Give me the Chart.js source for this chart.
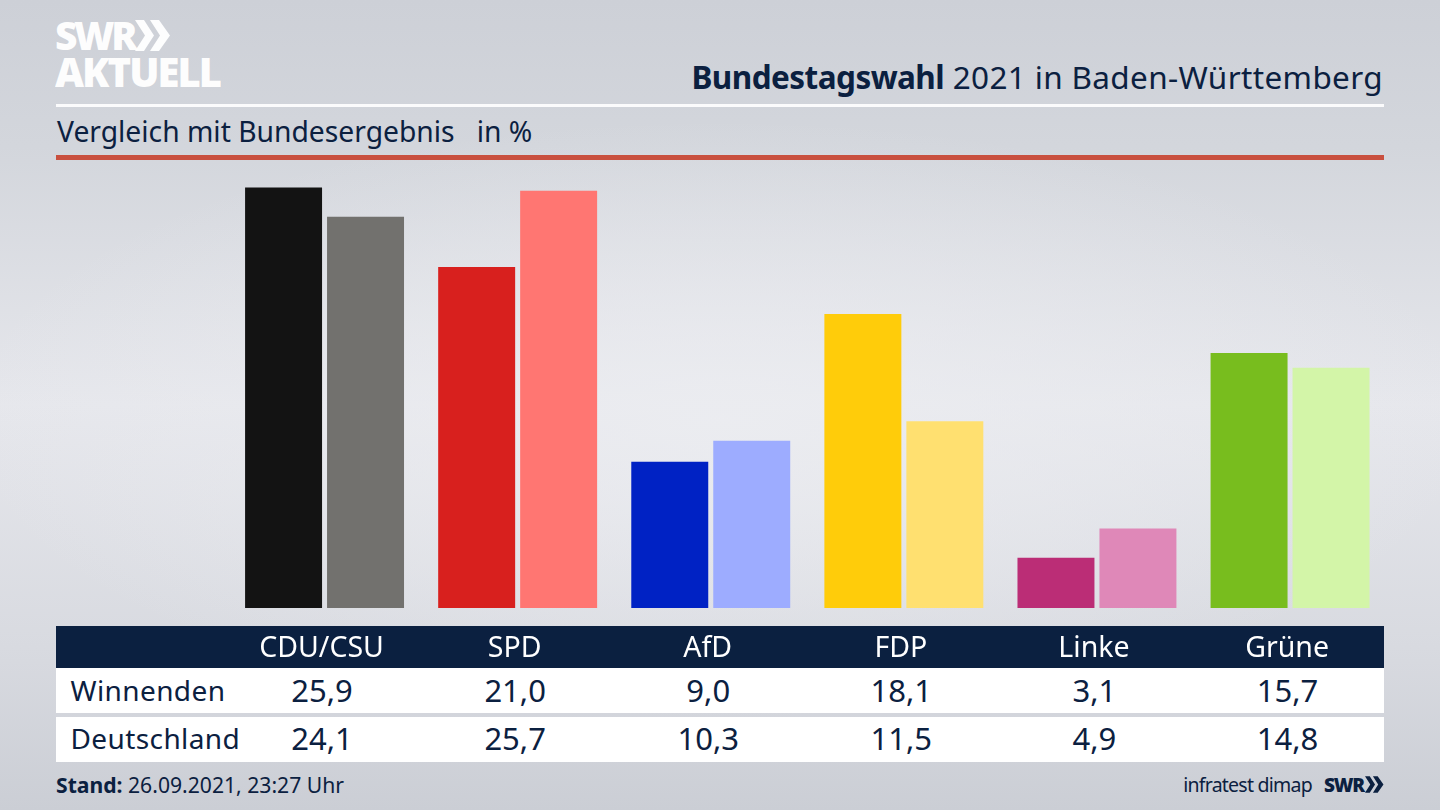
<!DOCTYPE html>
<html lang="de">
<head>
<meta charset="utf-8">
<title>Bundestagswahl 2021 in Baden-Württemberg</title>
<script src="https://cdn.jsdelivr.net/npm/chart.js@4/dist/chart.umd.min.js"></script>
<style>
html,body{margin:0;padding:0;width:1440px;height:810px;overflow:hidden}
body{position:relative;font-family:"Noto Sans",sans-serif;color:#0b2040;
background:
 radial-gradient(ellipse 760px 300px at 720px 420px,rgba(236,237,241,.85),rgba(236,237,241,0) 100%),
 linear-gradient(180deg,#cdd0d7 0%,#d3d6dc 18%,#e6e7ec 50%,#d8dae0 80%,#cbced5 100%);}
.abs{position:absolute;white-space:pre}
canvas{position:absolute;left:0;top:0;z-index:2}
.logo{color:#fff;font-family:"Open Sans",sans-serif;font-weight:800;line-height:1;opacity:.96}
.cell{position:absolute;transform:translateX(-50%);font-size:31px;line-height:45px;white-space:pre}
.label{position:absolute;left:70.500px;font-size:28px;line-height:45px;letter-spacing:.4px}
.row{position:absolute;left:56px;width:1328px;background:#fff}
</style>
</head>
<body>
<div class="abs logo" id="swr" style="left:55px;top:15px;font-size:39px;letter-spacing:-3.4px">SWR</div>
<svg class="abs" style="left:135px;top:20px" width="36" height="31" viewBox="0 0 36 31"><path fill="#fff" fill-opacity=".96" d="M0 0h9l10 15.500L9 31H0l10-15.500zM15 0h9l11 15.500L24 31h-9l10-15.500z"/></svg>
<div class="abs logo" style="left:55px;top:52px;font-size:40px;letter-spacing:-2px">AKTUELL</div>

<div class="abs" style="right:57px;top:56px;font-size:31.500px;line-height:42px;letter-spacing:.35px"><b style="letter-spacing:-.55px">Bundestagswahl</b> 2021 in Baden-Württemberg</div>
<div class="abs" style="left:56px;top:104px;width:1328px;height:3px;background:#fbfbfc"></div>
<div class="abs" style="left:57px;top:111px;font-size:28.250px;line-height:40px">Vergleich mit Bundesergebnis   in %</div>
<div class="abs" style="left:56px;top:155px;width:1328px;height:5px;background:#c9503f"></div>

<div class="abs" style="left:56px;top:626px;width:1328px;height:42px;background:#0b2040"></div>
<div class="row" style="top:668px;height:45px"></div>
<div class="row" style="top:717px;height:45px"></div>
<div id="cells"></div>

<div class="abs" style="left:56px;top:770px;font-size:21.150px;line-height:30px"><b>Stand:</b> 26.09.2021, 23:27 Uhr</div>
<div class="abs" style="right:128px;top:770px;font-size:19.500px;line-height:30px;letter-spacing:-.75px">infratest dimap</div>
<div class="abs" style="left:1324px;top:772px;font-family:'Open Sans',sans-serif;font-weight:800;font-size:19px;line-height:26px;letter-spacing:-1.2px">SWR</div>
<svg class="abs" style="left:1365px;top:776px" width="19" height="17" viewBox="0 0 36 31"><path fill="#0b2040" d="M0 0h9l10 15.500L9 31H0l10-15.500zM15 0h9l11 15.500L24 31h-9l10-15.500z"/></svg>

<canvas id="c" width="1440" height="810"></canvas>
<script>
const categories = ["CDU/CSU","SPD","AfD","FDP","Linke","Grüne"];
const winnenden = [25.9,21.0,9.0,18.1,3.1,15.7];
const deutschland = [24.1,25.7,10.3,11.5,4.9,14.8];
const winnendenColors = ["#131313","#d8201e","#0022c4","#ffcc0a","#bb2d76","#78bd1e"];
const deutschlandColors = ["#72716e","#ff7672","#9dacff","#ffe070","#df88b8","#d3f5a8"];
const seriesNames = ["Winnenden","Deutschland"];

const chart = new Chart(document.getElementById("c"),{
  type:"bar",
  data:{labels:categories,datasets:[
    {label:seriesNames[0],data:winnenden,backgroundColor:winnendenColors,borderWidth:0},
    {label:seriesNames[1],data:deutschland,backgroundColor:deutschlandColors,borderWidth:0}
  ]},
  options:{
    responsive:false,animation:false,devicePixelRatio:1,
    categoryPercentage:0.849,barPercentage:0.939,
    layout:{padding:{left:228,right:53.4,top:185.8,bottom:142}},
    plugins:{legend:{display:false},tooltip:{enabled:false},title:{display:false}},
    scales:{
      x:{grid:{display:false},border:{display:false},
         afterFit:s=>{s.height=60;},
         ticks:{color:"#ffffff",font:{family:"Noto Sans",size:28.5},padding:16,labelOffset:-3,maxRotation:0,autoSkip:false}},
      y:{display:false,min:0,max:26}
    }
  }
});

const fmt = v => v.toFixed(1).replace(".",",");
const cells = document.getElementById("cells");
[[winnenden,667.5,seriesNames[0]],[deutschland,716,seriesNames[1]]].forEach(([vals,top,name])=>{
  const l=document.createElement("div");l.className="label";l.style.top=top+"px";l.textContent=name;cells.appendChild(l);
  vals.forEach((v,i)=>{
    const d=document.createElement("div");d.className="cell";d.style.top=top+"px";
    d.style.left=chart.scales.x.getPixelForValue(i)-2.5+"px";d.textContent=fmt(v);cells.appendChild(d);
  });
});
</script>
</body>
</html>
